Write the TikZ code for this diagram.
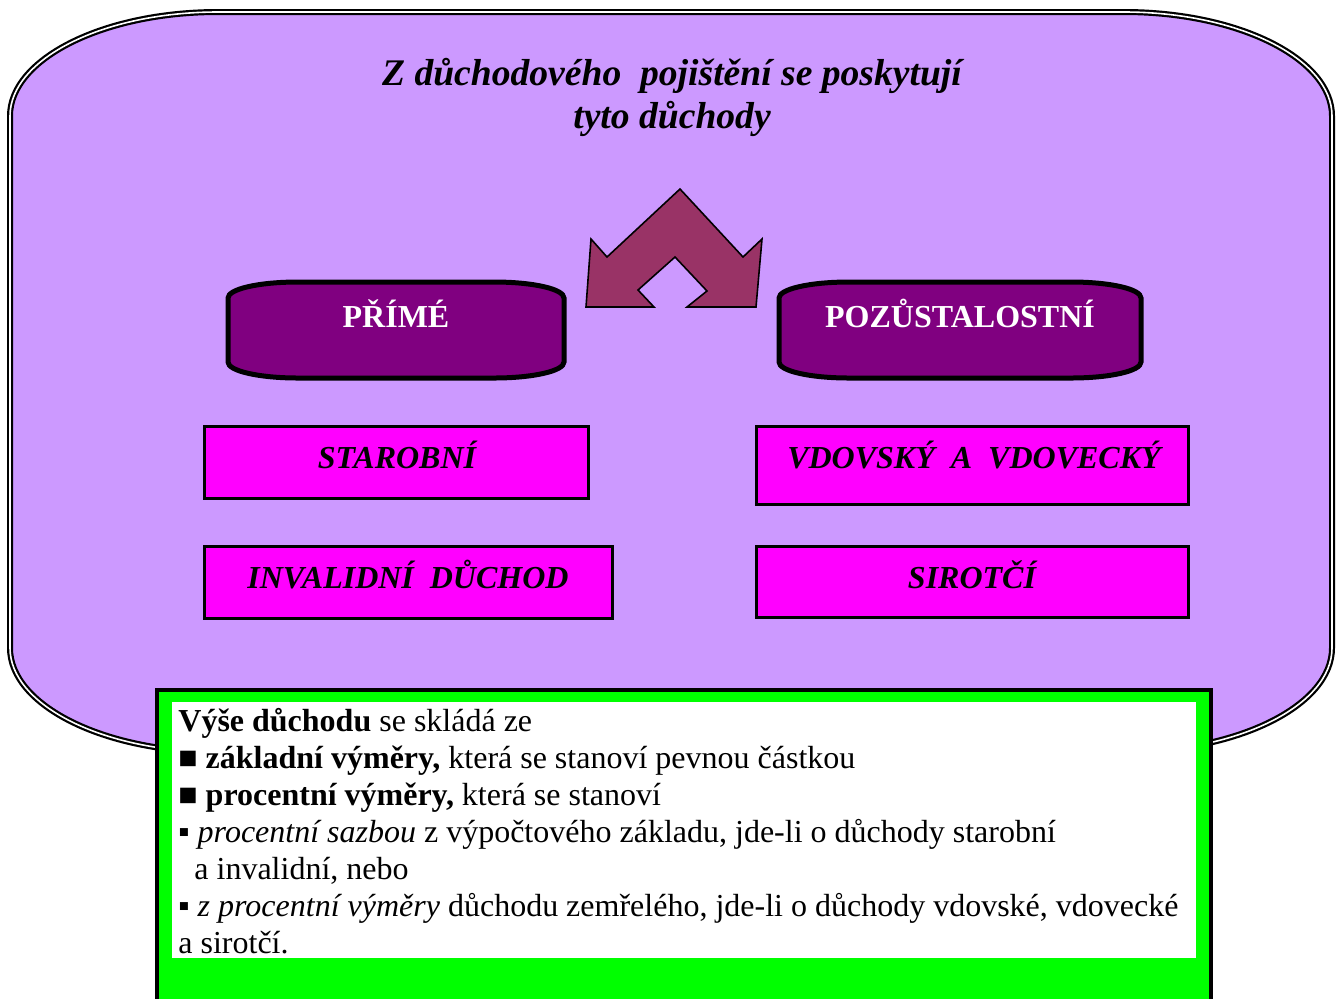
\documentclass[tikz,border=0pt]{standalone}
\usepackage{fontspec}
\setmainfont{Liberation Serif}

\definecolor{lavender}{HTML}{CC99FF}
\definecolor{grouppurple}{HTML}{800080}
\definecolor{kindmagenta}{HTML}{FF00FF}
\definecolor{arrowwine}{HTML}{993366}
\definecolor{notegreen}{HTML}{00FF00}

\tikzset{
  mainframe/.style={fill=lavender, draw=black, double=white, line width=1.1pt, double distance=0.8pt},
  groupbox/.style={fill=grouppurple, draw=black, line width=2.5pt},
  kindbox/.style={fill=kindmagenta, draw=black, line width=1.5pt},
  grouptext/.style={text=white, font=\fontsize{16}{19}\selectfont\bfseries, anchor=base, inner sep=0pt},
  kindtext/.style={font=\fontsize{16}{19}\selectfont\bfseries\itshape, anchor=base, inner sep=0pt},
}

\begin{document}
\begin{tikzpicture}[x=0.5pt, y=-0.5pt]
    \useasboundingbox (0,0) rectangle (1338,998);

    % Big lavender frame with double border
    \path[mainframe] (10,116) -- (10,648) .. controls (10,705) and (103,752) .. (218,752)
        -- (1124,752) .. controls (1239,752) and (1332,705) .. (1332,648)
        -- (1332,116) .. controls (1332,59) and (1239,12) .. (1124,12)
        -- (218,12) .. controls (103,12) and (10,59) .. (10,116) -- cycle;

    % Title
    \node[font=\fontsize{18.8}{21.5}\selectfont\bfseries\itshape, align=center, inner sep=0pt] (title) at (672,97)
        {Z důchodového\ \ pojištění se poskytují\\tyto důchody};

    % Split arrow
    \draw[fill=arrowwine, line width=0.8pt, line join=miter] (680,189) -- (743,257) -- (762,239) -- (756,307)
        -- (687,307) -- (707,291) -- (675,257) -- (638,290) -- (654,307) -- (586,307)
        -- (591,239) -- (607,257) -- cycle;

    % Two groups
    \path[groupbox] (228,298) .. controls (228,289) and (259,282) .. (298,282) -- (494,282)
        .. controls (533,282) and (564,289) .. (564,298) -- (564,362)
        .. controls (564,371) and (533,378) .. (494,378) -- (298,378)
        .. controls (259,378) and (228,371) .. (228,362) -- cycle;
    \path[groupbox] (779,298) .. controls (779,289) and (810,282) .. (849,282) -- (1071,282)
        .. controls (1110,282) and (1141,289) .. (1141,298) -- (1141,362)
        .. controls (1141,371) and (1110,378) .. (1071,378) -- (849,378)
        .. controls (810,378) and (779,371) .. (779,362) -- cycle;
    \node[grouptext] (prime) at (396,327) {PŘÍMÉ};
    \node[grouptext] (pozustalostni) at (960,327) {POZŮSTALOSTNÍ};

    % Kinds of pension
    \draw[kindbox] (204,426) rectangle (588,498);
    \draw[kindbox] (756,426) rectangle (1188,504);
    \draw[kindbox] (204,546) rectangle (612,618);
    \draw[kindbox] (756,546) rectangle (1188,617);
    \node[kindtext] (starobni) at (397,468) {STAROBNÍ};
    \node[kindtext] (vdovsky) at (974,468) {VDOVSKÝ\ \ A\ \ VDOVECKÝ};
    \node[kindtext] (invalidni) at (408,588) {INVALIDNÍ\ \ DŮCHOD};
    \node[kindtext] (sirotci) at (972,588) {SIROTČÍ};

    % Note on the amount
    \draw[fill=notegreen, line width=2pt] (157,690) rectangle (1211,1004);
    \fill[white] (172,702) rectangle (1196,958);
    \node[anchor=north west, align=left, inner sep=0pt, font=\fontsize{16}{18.5}\selectfont] (vyse) at (178,708)
        {\textbf{Výše důchodu} se skládá ze\\
         ■ \textbf{základní výměry,} která se stanoví pevnou částkou\\
         ■ \textbf{procentní výměry,} která se stanoví\\
         ▪ \textit{procentní sazbou} z výpočtového základu, jde-li o důchody starobní\\
         \hspace*{8pt}a invalidní, nebo\\
         ▪ \textit{z procentní výměry} důchodu zemřelého, jde-li o důchody vdovské, vdovecké\\
         a sirotčí.};
\end{tikzpicture}
\end{document}
